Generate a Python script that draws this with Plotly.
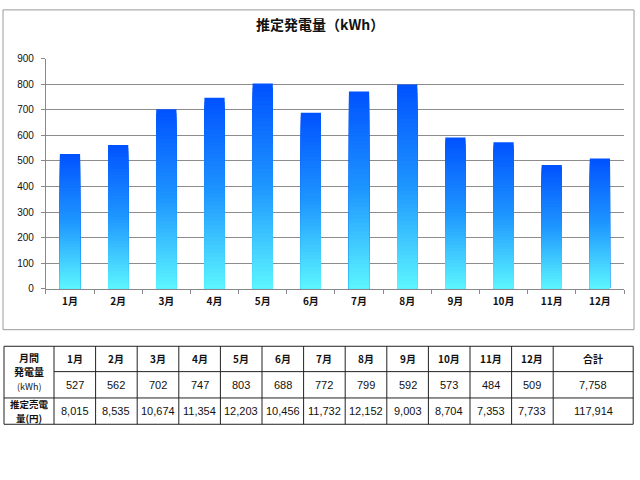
import plotly.graph_objects as go

# ---------------- data ----------------
months = ["1月", "2月", "3月", "4月", "5月", "6月", "7月", "8月", "9月", "10月", "11月", "12月"]
kwh = [527, 562, 702, 747, 803, 688, 772, 799, 592, 573, 484, 509]
yen = [8015, 8535, 10674, 11354, 12203, 10456, 11732, 12152, 9003, 8704, 7353, 7733]
kwh_total = 7758
yen_total = 117914
y_ticks = [0, 100, 200, 300, 400, 500, 600, 700, 800, 900]
title_text = "推定発電量（kWh）"
row_label_1 = ["月間", "発電量", "(kWh)"]
row_label_2 = ["推定売電", "量(円)"]
total_label = "合計"

# ---------------- style ----------------
W, H = 640, 480
JP = "Noto Sans CJK JP"
NUM = "Liberation Sans"
N_SEG = 48
stops = [(0.0, (0, 82, 255)), (0.5, (30, 150, 255)), (1.0, (92, 246, 255))]


def grad(t):
    for (t0, c0), (t1, c1) in zip(stops[:-1], stops[1:]):
        if t0 <= t <= t1:
            f = (t - t0) / (t1 - t0)
            return "rgb(%d,%d,%d)" % tuple(round(a + (b - a) * f) for a, b in zip(c0, c1))
    return "rgb(%d,%d,%d)" % stops[-1][1]


fig = go.Figure()

# gradient bars: overlaid bars of decreasing height, each a colour band
for k in range(N_SEG):
    frac = 1 - k / N_SEG
    fig.add_trace(go.Bar(
        x=months, y=[v * frac for v in kwh],
        marker=dict(color=grad((k + 0.5) / N_SEG), line=dict(width=0)),
        width=0.42, hoverinfo="skip", showlegend=False,
        xaxis="x", yaxis="y",
    ))

# ---------------- table ----------------
col_w = [50] + [41.6] * 12 + [80]
edges = [0]
for w in col_w:
    edges.append(edges[-1] + w)
row_edges = [0, 26, 53, 80]
T_LEFT, T_TOP = 4, 349
PAD = 2

lx, ly = [], []
for e in edges:
    lx += [e, e, None]
    ly += [row_edges[0], row_edges[-1], None]
for j, r in enumerate(row_edges):
    start = edges[0] if j in (0, 2, 3) else edges[1]
    lx += [start, edges[-1], None]
    ly += [r, r, None]
fig.add_trace(go.Scatter(x=lx, y=ly, mode="lines", line=dict(color="#222", width=1),
                         hoverinfo="skip", showlegend=False, xaxis="x2", yaxis="y2"))

centers = [(edges[i] + edges[i + 1]) / 2 for i in range(len(col_w))]
rc = [(row_edges[i] + row_edges[i + 1]) / 2 for i in range(3)]
ann = []


def cell(x, y, text, bold=False, size=10, family=JP):
    ann.append(dict(x=x, y=y, xref="x2", yref="y2", text=("<b>%s</b>" % text) if bold else text,
                    showarrow=False, font=dict(family=family, size=size, color="#111"),
                    xanchor="center", yanchor="middle"))


# merged first-column label, one annotation per line
cell(centers[0], 11, row_label_1[0], bold=True, size=10)
cell(centers[0], 26, row_label_1[1], bold=True, size=10)
cell(centers[0], 41, row_label_1[2], bold=False, size=9)
cell(centers[0], rc[2] - 7.5, row_label_2[0], bold=True, size=9.5)
cell(centers[0], rc[2] + 7.5, row_label_2[1], bold=True, size=9.5)
for i, m in enumerate(months):
    cell(centers[i + 1], rc[0], m, bold=True, size=10)
    cell(centers[i + 1], rc[1], f"{kwh[i]:,}", size=11, family=NUM)
    cell(centers[i + 1], rc[2], f"{yen[i]:,}", size=11, family=NUM)
cell(centers[-1], rc[0], total_label, bold=True, size=10)
cell(centers[-1], rc[1], f"{kwh_total:,}", size=11, family=NUM)
cell(centers[-1], rc[2], f"{yen_total:,}", size=11, family=NUM)

# title
ann.append(dict(x=0.5, y=1 - 18 / H, xref="paper", yref="paper", text="<b>%s</b>" % title_text,
                showarrow=False, font=dict(family=JP, size=14, color="#111"),
                xanchor="center", yanchor="middle"))

# ---------------- layout ----------------
px_l, px_r, py_t, py_b = 45.9, 624.0, 54, 290
tbl_w = edges[-1]
tbl_h = row_edges[-1]
fig.update_layout(
    width=W, height=H,
    margin=dict(l=0, r=0, t=0, b=0),
    paper_bgcolor="white", plot_bgcolor="white",
    barmode="overlay",
    annotations=ann,
    xaxis=dict(domain=[px_l / W, px_r / W], anchor="y", type="category",
               tickvals=months, ticktext=["<b>%s</b>" % m for m in months],
               showline=True, linecolor="#888", linewidth=1,
               ticks="outside", tickson="boundaries", ticklen=4, tickcolor="#888",
               ticklabelstandoff=3,
               tickfont=dict(family=JP, size=10, color="#111"), showgrid=False,
               fixedrange=True),
    yaxis=dict(domain=[1 - py_b / H, 1 - py_t / H], anchor="x", range=[0, 900],
               tickvals=y_ticks, showline=True, linecolor="#888", linewidth=1,
               ticks="outside", ticklen=4, tickcolor="#888", ticklabelstandoff=5,
               showgrid=True, gridcolor="#8c8c8c", gridwidth=1,
               tickfont=dict(family=NUM, size=10, color="#111"),
               zeroline=False, fixedrange=True),
    xaxis2=dict(domain=[(T_LEFT - PAD) / W, (T_LEFT + tbl_w + PAD) / W], anchor="y2",
                range=[-PAD, tbl_w + PAD], visible=False, fixedrange=True),
    yaxis2=dict(domain=[1 - (T_TOP + tbl_h + PAD) / H, 1 - (T_TOP - PAD) / H], anchor="x2",
                range=[tbl_h + PAD, -PAD], visible=False, fixedrange=True),
    shapes=[dict(type="rect", xref="paper", yref="paper",
                 x0=3 / W, x1=634 / W, y0=1 - 332 / H, y1=1 - 4 / H,
                 line=dict(color="#9a9a9a", width=1), fillcolor="rgba(0,0,0,0)", layer="below")],
)

fig.write_html("out.html")
